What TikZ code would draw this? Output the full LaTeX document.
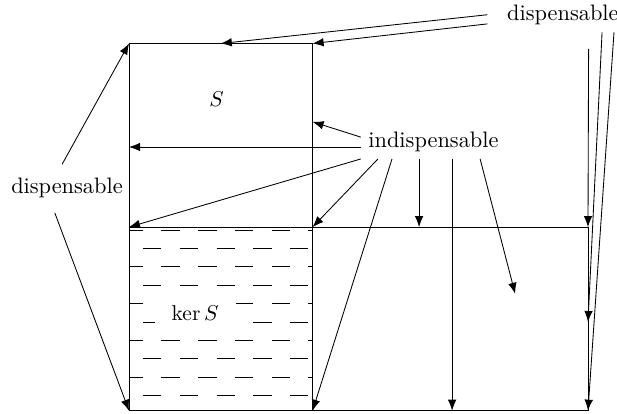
\documentclass[tikz,border=0pt]{standalone}
\usetikzlibrary{arrows.meta}
\begin{document}
\begin{tikzpicture}[
			>={Latex[length=1.8mm,width=1.4mm]},
			box line/.style={thin},
			hatch line/.style={thin, dash pattern=on 3mm off 3mm},
			label node/.style={inner sep=0.3333em, font=\fontsize{10.4}{12}\selectfont},
			ptr line/.style={->, thin}
			]
			\useasboundingbox (-2.108,-0.054) rectangle (7.974,6.711);
			\coordinate (A) at (0,0);
			\coordinate (B) at (3,0);
			\coordinate (C) at (7.5,0);
			\coordinate (D) at (0,3);
			\coordinate (E) at (3,3);
			\coordinate (F) at (7.5,3);
			\coordinate (G) at (0,6);
			\coordinate (H) at (3,6);
			
			% kernel part, dashed rows
			\foreach \k in {0,...,4}{
				\draw[hatch line, dash phase=0.37cm] (0,0.25+0.6*\k) -- (3,0.25+0.6*\k);
				\draw[hatch line, dash phase=0.07cm] (0,0.55+0.6*\k) -- (3,0.55+0.6*\k);
			}
			
			\draw[box line] (G) -- (A) -- (C) -- (F) -- (D);
			\draw[box line] (G) -- (H) -- (B);
			
			\node[label node] (S) at (1.43,5.09) {$S$};
			\node[label node, fill=white, inner xsep=8pt] (kerS) at (1.08,1.60) {$\ker S$};
			
			\node[label node] (ind) at (4.975,4.40) {indispensable};
			\node[label node] (dtop) at (7.09,6.47) {dispensable};
			\node[label node] (dleft) at (-1.013,3.64) {dispensable};
			
			\coordinate (M1) at (3,4.72);
			\coordinate (M2) at (4.74,3);
			\coordinate (M3) at (5.28,0);
			\coordinate (M4) at (6.31,1.91);
			\coordinate (M5) at (1.5,6);
			\coordinate (M6) at (7.5,1.45);
			
			% indispensable
			\draw[ptr line] ([yshift=0.07cm]ind.west) -- (M1);
			\draw[ptr line] (ind.base west) -- (ind.base west -| G);
			\draw[ptr line] (ind.south west) -- (D);
			\draw[ptr line] ([xshift=0.28cm]ind.south west) -- (E);
			\draw[ptr line] ([xshift=0.51cm]ind.south west) -- (B);
			\draw[ptr line] (ind.south -| M2) -- (M2);
			\draw[ptr line] (ind.south -| M3) -- (M3);
			\draw[ptr line] ([xshift=1.95cm]ind.south west) -- (M4);
			
			% dispensable
			\draw[ptr line] ([xshift=-0.2cm]dtop.west) -- (M5);
			\draw[ptr line] ([xshift=-0.2cm,yshift=-0.15cm]dtop.west) -- (H);
			\draw[ptr line] ([xshift=0.42cm,yshift=-0.27cm]dtop.south) -- (F);
			\draw[ptr line] ([xshift=0.64cm]dtop.south) -- (M6);
			\draw[ptr line] ([xshift=0.835cm]dtop.south) -- (C);
			\draw[ptr line] ([xshift=-0.08cm,yshift=0.1cm]dleft.north) -- (G);
			\draw[ptr line] ([xshift=-0.2cm,yshift=-0.12cm]dleft.south) -- (A);
		\end{tikzpicture}
\end{document}
